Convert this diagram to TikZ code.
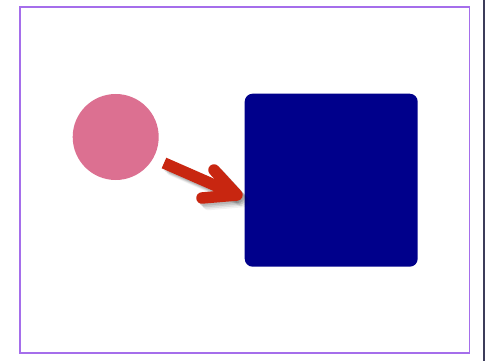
\documentclass[tikz,border=0pt]{standalone}
\usetikzlibrary{calc}
\definecolor{framecol}{RGB}{165,110,235}
\definecolor{pinkcol}{RGB}{220,112,145}
\definecolor{bluecol}{RGB}{0,0,139}
\definecolor{arrowcol}{RGB}{200,38,16}
\definecolor{edgecol}{RGB}{60,60,90}
\tikzset{
  arrowpart/.style={line width=11.5pt, line join=round},
}
\begin{document}
\begin{tikzpicture}[x=1pt,y=-1pt]
\useasboundingbox (0,0) rectangle (485,361);
\fill[white] (0,0) rectangle (485,361);
% frame
\draw[framecol, line width=1.2pt] (20,7) rectangle (469.5,353);
\draw[edgecol, line width=1.5pt] (484.2,0) -- (484.2,361);
% circle
\node[circle, fill=pinkcol, minimum size=86pt, inner sep=0pt] (c) at (115.7,137) {};
% square
\node[fill=bluecol, rounded corners=8pt, minimum width=173pt, minimum height=173pt, inner sep=0pt, anchor=north west] (sq) at (244.5,93.5) {};
% arrow coordinates
\coordinate (s) at (164,163);
\coordinate (t) at (237,195);
\coordinate (ua) at (214,170);
\coordinate (la) at (202,198);
% shadow
\foreach \o/\op in {2/0.10,3.5/0.09,5/0.07,6.5/0.05} {
  \draw[arrowpart, black, opacity=\op, line cap=butt] ($(s)+(\o,\o)$) -- ($(t)+(\o,\o)$);
  \draw[arrowpart, black, opacity=\op, line cap=round] ($(ua)+(\o,\o)$) -- ($(t)+(\o,\o)$) -- ($(la)+(\o,\o)$);
}
% arrow
\draw[arrowpart, arrowcol, line cap=butt] (s) -- (t);
\draw[arrowpart, arrowcol, line cap=round] (ua) -- (t) -- (la);
\end{tikzpicture}
\end{document}
